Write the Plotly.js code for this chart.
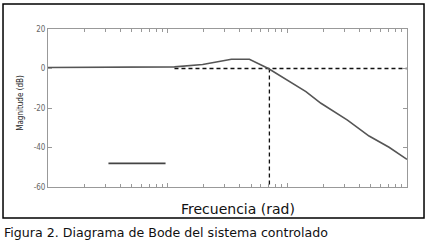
<!DOCTYPE html>
<html><head><meta charset="utf-8">
<script src="https://cdn.plot.ly/plotly-3.0.1.min.js"></script>
<style>html,body{margin:0;padding:0;background:#fff;}#chart{width:428px;height:240px;}</style>
</head><body><div id="chart"></div>
<script>
// Bode magnitude curve
var freq = [1, 11.4, 19.6, 24.6, 34.1, 48.2, 55.2, 69.4, 143, 191, 318, 482, 708, 1000];
var magDb = [0.5, 0.8, 2, 3, 4.7, 4.7, 3, 0, -11.7, -17.6, -26.1, -34.2, -39.9, -46];
// dashed 0 dB reference and crossover marker
var refFreq = [11.4, 1000];
var refDb = [0, 0];
var crossFreq = [70.8, 70.8];
var crossDb = [0, -60];
// short legend-like segment
var segFreq = [3.2, 9.6];
var segDb = [-48, -48];
var yTicks = [20, 0, -20, -40, -60];

var traces = [
  {x: refFreq, y: refDb, mode: 'lines', line: {color: '#111', width: 1.3, dash: '4px,3px'}, hoverinfo: 'skip'},
  {x: crossFreq, y: crossDb, mode: 'lines', line: {color: '#111', width: 1.3, dash: '4px,3px'}, hoverinfo: 'skip'},
  {x: freq, y: magDb, mode: 'lines', line: {color: '#555', width: 1.6}},
  {x: segFreq, y: segDb, mode: 'lines', line: {color: '#444', width: 1.8}}
];

var layout = {
  width: 428, height: 240,
  margin: {l: 48, r: 21, t: 29, b: 53},
  paper_bgcolor: '#fff', plot_bgcolor: '#fff',
  showlegend: false,
  font: {family: 'Liberation Sans Narrow, DejaVu Sans Condensed, sans-serif', size: 8, color: '#666'},
  xaxis: {
    type: 'log', range: [0, 3], showticklabels: false,
    showline: true, linecolor: '#999', linewidth: 1, mirror: 'allticks',
    ticks: 'inside', ticklen: 4, tickcolor: '#999', dtick: 1,
    minor: {ticks: 'inside', ticklen: 3, tickcolor: '#999', dtick: 'D1'},
    showgrid: false, zeroline: false
  },
  yaxis: {
    range: [-60, 20], tickvals: yTicks, ticktext: yTicks.map(String),
    showline: true, linecolor: '#999', linewidth: 1, mirror: 'allticks',
    ticks: 'inside', ticklen: 4, tickcolor: '#999',
    showgrid: false, zeroline: false,
    tickfont: {size: 8, color: '#666'}
  },
  shapes: [
    {type: 'rect', xref: 'paper', yref: 'paper', x0: -0.1253, x1: 1.0474, y0: -0.196, y1: 1.158,
     line: {color: '#000', width: 1.5}, fillcolor: 'rgba(0,0,0,0)', layer: 'below'}
  ],
  annotations: [
    {text: 'Magnitude (dB)', xref: 'paper', yref: 'paper', x: -0.0947, y: 0.53, textangle: -90,
     showarrow: false, font: {size: 8, color: '#222', family: 'Liberation Sans Narrow, DejaVu Sans Condensed, sans-serif'}},
    {text: 'Frecuencia (rad)', xref: 'paper', yref: 'paper', x: 0.529, y: -0.14, xanchor: 'center', yanchor: 'middle',
     showarrow: false, font: {size: 14, color: '#111', family: 'DejaVu Sans, sans-serif'}},
    {text: 'Figura 2. Diagrama de Bode del sistema controlado', xref: 'paper', yref: 'paper', x: -0.127, y: -0.285,
     xanchor: 'left', yanchor: 'middle', showarrow: false, font: {size: 12.6, color: '#111', family: 'DejaVu Sans, sans-serif'}}
  ]
};

Plotly.newPlot('chart', traces, layout, {displayModeBar: false, staticPlot: true});
</script></body></html>
